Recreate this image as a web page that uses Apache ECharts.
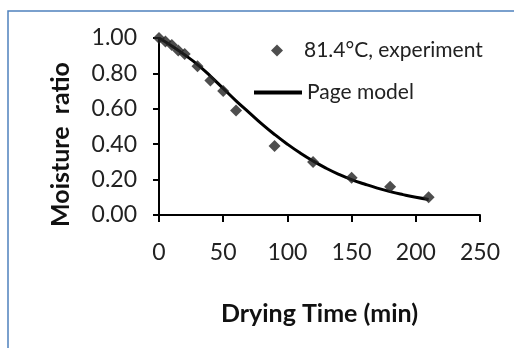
<!DOCTYPE html>
<html>
<head>
<meta charset="utf-8">
<script src="https://cdn.jsdelivr.net/npm/echarts@6/dist/echarts.min.js"></script>
<style>
  html, body { margin: 0; padding: 0; background: #fff; }
  #chart { width: 514px; height: 348px; }
</style>
</head>
<body>
<div id="chart"></div>
<script>
// experiment points (81.4 C)
const expTime = [0, 5, 10, 15, 20, 30, 40, 50, 60, 90, 120, 150, 180, 210];
const expMR = [1.00, 0.98, 0.96, 0.93, 0.91, 0.84, 0.76, 0.70, 0.59, 0.39, 0.30, 0.21, 0.16, 0.10];

// Page model curve
const modelTime = [0, 10, 20, 30, 40, 50, 60, 70, 80, 90, 100, 110, 120, 130, 140, 150, 160, 170, 180, 190, 200, 210];
const modelMR = [1.00, 0.955, 0.905, 0.85, 0.785, 0.715, 0.645, 0.58, 0.515, 0.455, 0.40, 0.35, 0.305, 0.265, 0.23, 0.20, 0.175, 0.152, 0.132, 0.115, 0.10, 0.088];

const font = 'Lato, "Open Sans", sans-serif';

const chart = echarts.init(document.getElementById('chart'));

chart.setOption({
  animation: false,
  backgroundColor: '#fff',
  textStyle: { fontFamily: font },
  graphic: [
    {
      type: 'rect',
      shape: { x: 8, y: 11, width: 600, height: 400 },
      style: { fill: 'none', stroke: '#4f81bd', lineWidth: 1.5 },
      silent: true
    }
  ],
  grid: { left: 159, right: 34, top: 38, bottom: 133 },
  legend: [
    {
      data: [{ name: '81.4°C, experiment', icon: 'diamond' }],
      left: 266, top: 35,
      itemWidth: 12, itemHeight: 12,
      textStyle: { fontSize: 21, color: '#222', fontFamily: font, padding: [0, 0, 0, 16] }
    },
    {
      data: [{ name: 'Page model', icon: 'rect' }],
      left: 249, top: 77,
      itemWidth: 48, itemHeight: 4,
      textStyle: { fontSize: 21, color: '#222', fontFamily: font }
    }
  ],
  xAxis: {
    type: 'value',
    min: 0, max: 250, interval: 50,
    name: 'Drying Time (min)',
    nameLocation: 'middle',
    nameGap: 86,
    nameTextStyle: { fontSize: 25, fontWeight: 'bold', color: '#111', fontFamily: font },
    axisLine: { show: true, lineStyle: { color: '#000', width: 2 } },
    axisTick: { show: true, length: 7, lineStyle: { color: '#000', width: 2 } },
    axisLabel: { fontSize: 23, color: '#222', margin: 26, fontFamily: font },
    splitLine: { show: false }
  },
  yAxis: {
    type: 'value',
    min: 0, max: 1, interval: 0.2,
    name: 'Moisture  ratio',
    nameLocation: 'middle',
    nameGap: 86,
    nameRotate: 90,
    nameTextStyle: {
      fontSize: 25, fontWeight: 'bold', color: '#111', fontFamily: font,
      padding: [0, 36, 0, 0]
    },
    axisLine: { show: true, lineStyle: { color: '#000', width: 2 } },
    axisTick: { show: true, length: 6, lineStyle: { color: '#000', width: 2 } },
    axisLabel: {
      fontSize: 23, color: '#222', margin: 22, fontFamily: font,
      formatter: v => v.toFixed(2)
    },
    splitLine: { show: false }
  },
  series: [
    {
      name: '81.4°C, experiment',
      type: 'scatter',
      symbol: 'diamond',
      symbolSize: 12,
      itemStyle: { color: '#222' },
      data: expTime.map((t, i) => [t, expMR[i]]),
      z: 3
    },
    {
      name: 'Page model',
      type: 'line',
      smooth: true,
      showSymbol: false,
      symbol: 'none',
      lineStyle: { color: '#000', width: 3 },
      itemStyle: { color: '#000' },
      data: modelTime.map((t, i) => [t, modelMR[i]]),
      z: 2
    }
  ]
});
</script>
</body>
</html>
